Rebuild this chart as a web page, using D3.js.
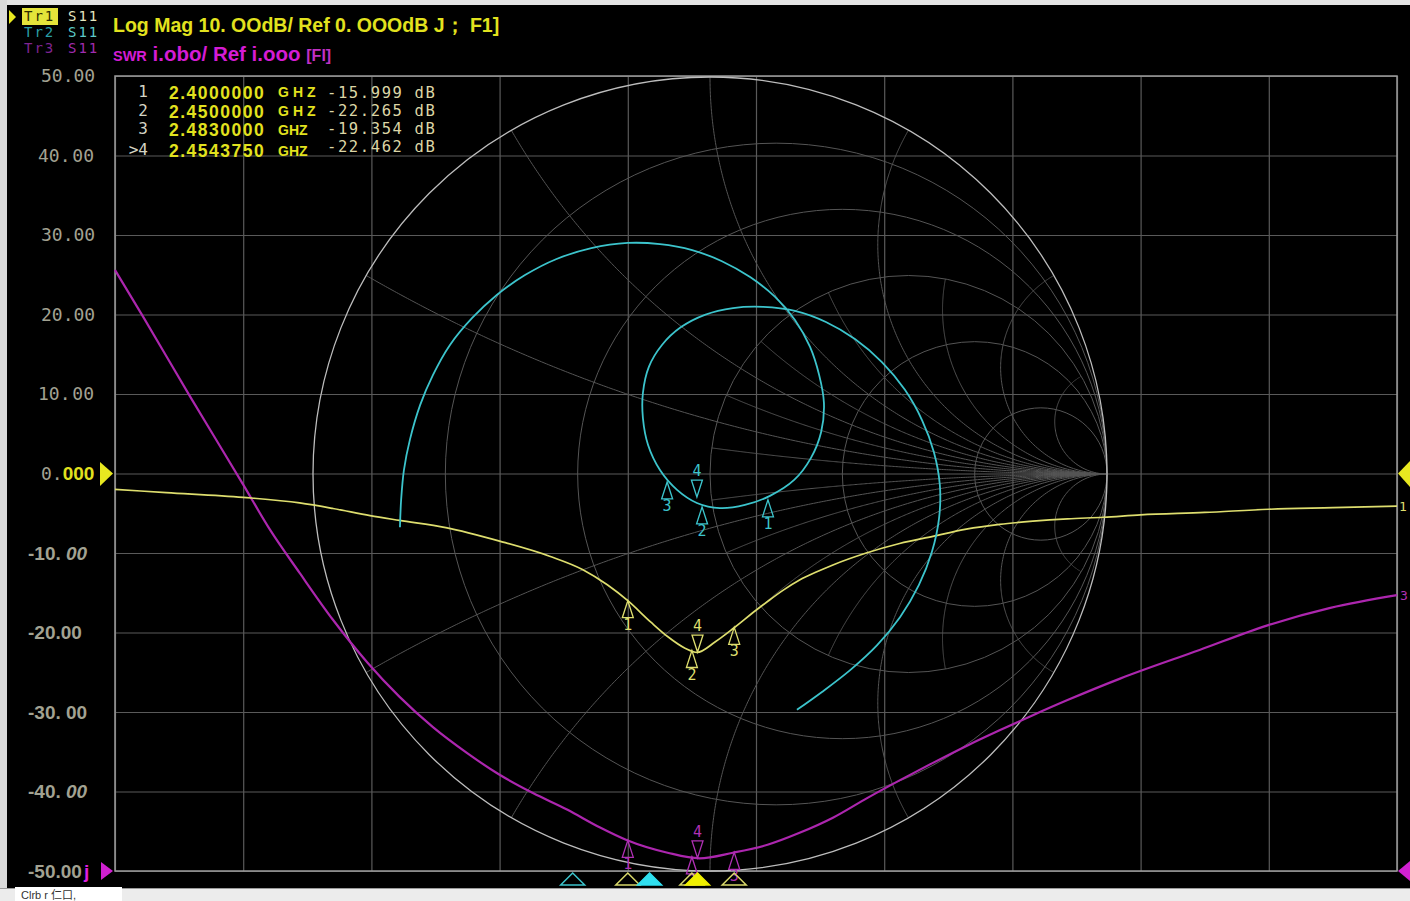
<!DOCTYPE html>
<html><head><meta charset="utf-8">
<script src="https://cdn.jsdelivr.net/npm/d3@7/dist/d3.min.js"></script>
<style>
html,body{margin:0;padding:0;background:#000;overflow:hidden}
svg{display:block}
</style></head><body>
<svg id="c" width="1410" height="901"></svg>
<script>
// ---------------- data ----------------
const freqTicks = [2.0,2.1,2.2,2.3,2.4,2.5,2.6,2.7,2.8,2.9,3.0];
const dbTicks = [50,40,30,20,10,0,-10,-20,-30,-40,-50];
const dbTickLabels = ["50.00","40. 00","30.00","20.00","10. 00","0.000","-10. 00","-20.00","-30. 00","-40. 00","-50.00"];

// Tr1 S11 Log Mag (dB) vs frequency (GHz)
const t1Freq = [2.000,2.040,2.100,2.144,2.170,2.199,2.222,2.258,2.300,2.339,2.365,2.384,2.400,2.418,2.431,2.445,2.454,2.468,2.483,2.500,2.509,2.521,2.534,2.547,2.560,2.586,2.612,2.638,2.664,2.690,2.716,2.743,2.771,2.800,2.850,2.900,2.950,3.000];
const t1Db   = [-2.0,-2.4,-3.0,-3.7,-4.4,-5.3,-5.9,-6.8,-8.5,-10.4,-12.1,-14.0,-16.0,-18.7,-20.5,-22.0,-22.5,-21.2,-19.4,-17.2,-16.1,-14.7,-13.4,-12.4,-11.5,-10.0,-8.8,-7.9,-7.0,-6.4,-6.0,-5.7,-5.5,-5.2,-4.9,-4.5,-4.3,-4.1];

// Tr3 S11 SWR vs frequency (GHz)
const t3Freq = [2.000,2.022,2.0585,2.100,2.121,2.144,2.170,2.197,2.222,2.248,2.275,2.300,2.326,2.353,2.378,2.399,2.431,2.456,2.482,2.509,2.534,2.560,2.587,2.612,2.638,2.665,2.690,2.716,2.743,2.784,2.846,2.899,2.948,3.000];
const t3Swr  = [8.56,7.97,6.97,5.86,5.29,4.75,4.16,3.62,3.19,2.81,2.48,2.21,1.98,1.77,1.55,1.39,1.23,1.16,1.23,1.33,1.48,1.67,1.92,2.14,2.36,2.58,2.77,2.96,3.15,3.42,3.78,4.09,4.31,4.47];

// Tr2 S11 Smith chart (reflection coefficient, real / imaginary), 2.0 -> 3.0 GHz
const t2Re = [-0.781,-0.778,-0.771,-0.756,-0.730,-0.698,-0.655,-0.599,-0.537,-0.466,-0.388,-0.299,-0.207,-0.126,-0.045,0.030,0.101,0.164,0.214,0.252,0.275,0.287,0.280,0.254,0.212,0.151,0.088,0.025,-0.033,-0.083,-0.126,-0.156,-0.169,-0.169,-0.154,-0.121,-0.073,-0.013,0.058,0.134,0.214,0.292,0.365,0.433,0.491,0.534,0.564,0.579,0.577,0.559,0.526,0.479,0.421,0.353,0.282,0.219];
const t2Im = [-0.134,-0.065,0.010,0.086,0.174,0.249,0.325,0.393,0.451,0.501,0.541,0.569,0.582,0.579,0.564,0.536,0.496,0.446,0.388,0.320,0.249,0.179,0.106,0.040,-0.015,-0.055,-0.078,-0.086,-0.073,-0.040,0.010,0.073,0.141,0.204,0.270,0.325,0.370,0.401,0.418,0.421,0.411,0.383,0.340,0.282,0.212,0.136,0.055,-0.028,-0.111,-0.196,-0.280,-0.360,-0.431,-0.494,-0.549,-0.594];

// markers
const mkNum = ["1","2","3",">4"];
const mkLabel = ["1","2","3","4"];
const mkFreq = [2.4,2.45,2.483,2.454375];
const mkDb = [-15.999,-22.265,-19.354,-22.462];
const mkFreqText = ["2.4000000","2.4500000","2.4830000","2.4543750"];
const mkUnitText = ["GHZ","GHZ","GHZ","GHZ"];
const mkValText = ["-15.999 dB","-22.265 dB","-19.354 dB","-22.462 dB"];
const t2MkRe = [0.146,-0.020,-0.108,-0.033];
const t2MkIm = [-0.065,-0.083,-0.020,-0.058];
const t2StimFreq = [2.357,2.417];

// Smith chart grid values
const smithR = [0.2,0.5,1,2,5];
const smithXMajor = [0.268,0.577,1,1.732,3.732];
const smithXMinor = [0.132,0.414,0.767,1.303,2.414,7.596];

// ---------------- layout ----------------
const L=115,R=1397,T=76,B=871;
const svg = d3.select("#c");
const xF = d3.scaleLinear().domain([2.0,3.0]).range([L,R]);
const yDb = d3.scaleLinear().domain([-50,50]).range([B,T]);
const ySwr = d3.scaleLinear().domain([1,11]).range([B,T]);
const gx = d3.scaleLinear().domain([-1,1]).range([313,1107]);
const gy = d3.scaleLinear().domain([-1,1]).range([871,77]);

const C = {y:"#dede6e", yTxt:"#e2e21e", cy:"#3cc4cc", mg:"#ac26ae", mgTxt:"#d41cd4", grid:"#5a5a5a", smith:"#555555", lbl:"#a2a292"};

svg.append("rect").attr("width",1410).attr("height",901).attr("fill","#000");
// screen frame
svg.append("rect").attr("x",0).attr("y",0).attr("width",1410).attr("height",5).attr("fill","#e4e4e4");
svg.append("rect").attr("x",0).attr("y",0).attr("width",7).attr("height",901).attr("fill","#dadada");
svg.append("rect").attr("x",0).attr("y",888).attr("width",1410).attr("height",13).attr("fill","#ececec");
svg.append("line").attr("x1",0).attr("x2",1410).attr("y1",888.5).attr("y2",888.5).attr("stroke","#9a9a9a");
svg.append("rect").attr("x",15).attr("y",887).attr("width",107).attr("height",14).attr("fill","#fff");
svg.append("text").attr("x",21).attr("y",899).attr("font-family","Liberation Sans, Noto Sans CJK SC").attr("font-size",11).attr("fill","#333").text("Clrb r 仁口,");

// gridlines via axes
const gGrid = svg.append("g");
gGrid.append("g").attr("transform",`translate(0,${B})`)
  .call(d3.axisBottom(xF).tickValues(freqTicks).tickSize(-(B-T)).tickFormat(""))
  .call(g=>{g.select(".domain").remove(); g.selectAll("line").attr("stroke",C.grid).attr("stroke-width",1.2);});
gGrid.append("g").attr("transform",`translate(${L},0)`)
  .call(d3.axisLeft(yDb).tickValues(dbTicks).tickSize(-(R-L)).tickFormat(""))
  .call(g=>{g.select(".domain").remove(); g.selectAll("line").attr("stroke",C.grid).attr("stroke-width",1.2);});
svg.append("rect").attr("x",L).attr("y",T).attr("width",R-L).attr("height",B-T).attr("fill","none").attr("stroke","#9c9c9c").attr("stroke-width",1.5);

// Smith chart grid
const gS = svg.append("g");
function gam(r,x){const d=(r+1)*(r+1)+x*x;return [(r*r-1+x*x)/d,2*x/d];}
function arcPts(x,rmin){const p=[];for(let i=0;i<300;i++){const t=i/300;p.push(gam(rmin+t/(1-t),x));}p.push([1,0]);return p;}
const sLine = d3.line().x(d=>gx(d[0])).y(d=>gy(d[1]));
smithR.forEach(r=>{
  gS.append("circle").attr("cx",gx(r/(1+r))).attr("cy",gy(0)).attr("r",gx(1/(1+r))-gx(0))
    .attr("fill","none").attr("stroke",C.smith).attr("stroke-width",1);
});
smithXMajor.forEach(x=>{[x,-x].forEach(v=>{
  gS.append("path").attr("d",sLine(arcPts(v,0))).attr("fill","none").attr("stroke",C.smith).attr("stroke-width",1);
});});
smithXMinor.forEach(x=>{[x,-x].forEach(v=>{
  gS.append("path").attr("d",sLine(arcPts(v,1))).attr("fill","none").attr("stroke",C.smith).attr("stroke-width",1);
});});
gS.append("circle").attr("cx",gx(0)).attr("cy",gy(0)).attr("r",gx(1)-gx(0)).attr("fill","none").attr("stroke","#bdbdbd").attr("stroke-width",1.3);

// traces
const t1 = t1Freq.map((f,i)=>({f,v:t1Db[i]}));
const t3 = t3Freq.map((f,i)=>({f,v:t3Swr[i]}));
const t2 = t2Re.map((re,i)=>({re,im:t2Im[i]}));
svg.append("path").attr("d",d3.line().x(d=>xF(d.f)).y(d=>ySwr(d.v)).curve(d3.curveMonotoneX)(t3))
  .attr("fill","none").attr("stroke",C.mg).attr("stroke-width",2.2);
svg.append("path").attr("d",d3.line().x(d=>xF(d.f)).y(d=>yDb(d.v)).curve(d3.curveMonotoneX)(t1))
  .attr("fill","none").attr("stroke",C.y).attr("stroke-width",1.7);
svg.append("path").attr("d",d3.line().x(d=>gx(d.re)).y(d=>gy(d.im)).curve(d3.curveCatmullRom.alpha(0.5))(t2))
  .attr("fill","none").attr("stroke",C.cy).attr("stroke-width",1.8);

// markers on traces
function marker(x,y,lab,col,down){
  const g=svg.append("g");
  const h=17,w=5.5;
  const pts = down ? [[x,y],[x-w,y-h],[x+w,y-h]] : [[x,y],[x-w,y+h],[x+w,y+h]];
  g.append("polygon").attr("points",pts.map(p=>p.join(",")).join(" ")).attr("fill","none").attr("stroke",col).attr("stroke-width",1.3);
  g.append("text").attr("x",x).attr("y",down?y-h-4:y+h+12).attr("text-anchor","middle")
    .attr("font-family","DejaVu Sans Mono").attr("font-size",15).attr("fill",col).text(lab);
}
const swrAt = d3.scaleLinear().domain(t3Freq).range(t3Swr);
mkFreq.forEach((f,i)=>{
  marker(xF(f),yDb(mkDb[i]),mkLabel[i],C.y,i===3);
  marker(xF(f),ySwr(swrAt(f)),mkLabel[i],"#b030b4",i===3);
  marker(gx(t2MkRe[i]),gy(t2MkIm[i]),mkLabel[i],C.cy,i===3);
});

// stimulus markers below axis
function stim(f,col,filled){
  const x=xF(f);
  svg.append("polygon").attr("points",`${x},${B+2} ${x-12},${B+14} ${x+12},${B+14}`)
    .attr("fill",filled?col:"none").attr("stroke",col).attr("stroke-width",1.5);
}
stim(t2StimFreq[0],"#3cc4cc",false);
stim(mkFreq[0],"#d8d86a",false);
stim(t2StimFreq[1],"#30e0f0",true);
stim(mkFreq[1],"#d8d86a",false);
stim(mkFreq[2],"#d8d86a",false);
stim(mkFreq[3],"#f0f000",true);

// reference arrows
svg.append("polygon").attr("points",`100,462 100,486 113,${yDb(0)}`).attr("fill","#e8e820");
svg.append("polygon").attr("points",`101,862 101,880 113,${B}`).attr("fill","#d020d0");
svg.append("polygon").attr("points",`1398,${yDb(0)} 1410,461 1410,487`).attr("fill","#e8e820");
svg.append("polygon").attr("points",`1398,${B} 1410,861 1410,881`).attr("fill","#d020d0");
svg.append("text").attr("x",1399).attr("y",511).attr("font-family","DejaVu Sans Mono").attr("font-size",13).attr("fill",C.y).text("1");
svg.append("text").attr("x",1400).attr("y",600).attr("font-family","DejaVu Sans Mono").attr("font-size",13).attr("fill","#b030b4").text("3");

// y tick labels
dbTicks.forEach((v,i)=>{
  const y=yDb(v), s=dbTickLabels[i];
  if(v>0){
    const t=svg.append("text").attr("x",s.includes(" ")?38:41).attr("y",y).attr("dy","0.36em")
      .attr("font-family","DejaVu Sans Mono").attr("font-size",18).attr("fill",C.lbl);
    const parts=s.split(" ");
    t.append("tspan").text(parts[0]);
    if(parts.length>1){t.append("tspan").attr("font-size",3).text(" ");t.append("tspan").text(parts[1]);}
  } else if(v===0){
    const t=svg.append("text").attr("x",41).attr("y",y).attr("dy","0.36em")
      .attr("font-family","DejaVu Sans Mono").attr("font-size",18);
    t.append("tspan").attr("fill",C.lbl).text(s.slice(0,2));
    t.append("tspan").attr("fill","#e2e21e").attr("font-family","Liberation Sans").attr("font-weight","bold").attr("font-size",19).text(s.slice(2));
  } else {
    const t=svg.append("text").attr("x",28).attr("y",y).attr("dy","0.36em")
      .attr("font-family","Liberation Sans").attr("font-weight","bold").attr("font-size",19).attr("fill",C.lbl);
    if(v===-10||v===-40){t.append("tspan").text(s.slice(0,-2));t.append("tspan").attr("font-style","italic").text(s.slice(-2));}
    else t.text(s);
  }
});
svg.append("text").attr("x",84).attr("y",yDb(-50)).attr("dy","0.36em").attr("font-family","Liberation Sans").attr("font-weight","bold").attr("font-size",19).attr("fill","#e020e0").text("j");

// channel/trace labels
svg.append("polygon").attr("points","9,10 9,24 16,17").attr("fill","#e8e820");
svg.append("rect").attr("x",22).attr("y",8).attr("width",36).attr("height",17).attr("fill","#e4e43a");
const trRows=[["Tr1","#2c2c00","S11","#e6e6c0"],["Tr2","#2a9ea6","S11","#5cc8c8"],["Tr3","#7e2490","S11","#a02cb0"]];
trRows.forEach((r,i)=>{
  const y=21+i*16;
  svg.append("text").attr("x",24).attr("y",y).attr("font-family","DejaVu Sans Mono").attr("font-size",14).attr("letter-spacing",2).attr("fill",r[1]).text(r[0]);
  svg.append("text").attr("x",68).attr("y",y).attr("font-family","DejaVu Sans Mono").attr("font-size",14).attr("letter-spacing",2).attr("fill",r[3]).text(r[2]);
});
svg.append("text").attr("x",113).attr("y",32).attr("font-family","Liberation Sans").attr("font-weight","bold").attr("font-size",19.5)
  .attr("fill",C.yTxt).text("Log Mag 10. OOdB/ Ref 0. OOOdB J； F1]");
const swr=svg.append("text").attr("x",113).attr("y",61).attr("font-family","Liberation Sans").attr("font-weight","bold").attr("fill",C.mgTxt);
swr.append("tspan").attr("font-size",14.5).text("SWR");
swr.append("tspan").attr("font-size",20.5).text(" i.obo/ Ref i.ooo ");
swr.append("tspan").attr("font-size",16).attr("fill","#c030c4").text("[FI]");

// marker readout
const rowY=[99,118,136,157];
const valY=[98,116,134,152];
mkNum.forEach((n,i)=>{
  const y=rowY[i];
  svg.append("text").attr("x",148).attr("y",y-2).attr("text-anchor","end").attr("font-family","DejaVu Sans Mono").attr("font-size",16).attr("fill","#d4d4c4").text(n);
  svg.append("text").attr("x",169).attr("y",y).attr("font-family","Liberation Sans").attr("font-weight","bold").attr("font-size",17.5)
    .attr("letter-spacing",1.5).attr("fill",C.yTxt).text(mkFreqText[i]);
  svg.append("text").attr("x",278).attr("y",i<2?y-2:y-1).attr("font-family","Liberation Sans").attr("font-weight","bold").attr("font-size",14)
    .attr("letter-spacing",i<2?4:0).attr("fill",C.yTxt).text(mkUnitText[i]);
  svg.append("text").attr("x",327).attr("y",valY[i]).attr("font-family","DejaVu Sans Mono").attr("font-size",15.5)
    .attr("letter-spacing",1.6).attr("fill","#dcd6a6").text(mkValText[i]);
});
</script>
</body></html>
